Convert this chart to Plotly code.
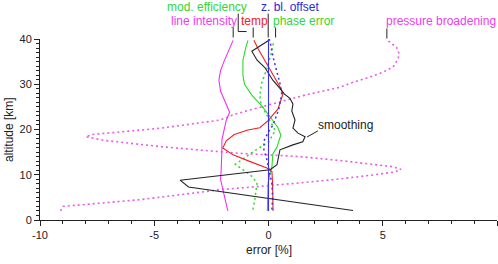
import plotly.graph_objects as go

# ---- data (error [%], altitude [km]) ----
li_x = [-1.78, -1.85, -1.95, -2.05, -2.1, -2.07, -2.04, -2.04, -2.04, -1.95, -1.85, -1.7, -1.8, -1.95, -2.1, -2.17, -2.1, -1.95, -1.75, -1.55]
li_y = [2.0, 3.5, 5.5, 7.5, 9.0, 11.0, 13.3, 15.5, 17.7, 20.0, 22.0, 23.8, 25.0, 26.8, 28.5, 30.9, 33.0, 35.0, 37.5, 39.7]

me_x = [-0.05, -0.05, -0.02, 0.05, 0.15, 0.19, 0.37, 0.54, 0.4, 0.19, -0.24, -0.73, -1.05, -1.12, -1.12, -1.0, -0.9]
me_y = [2.0, 5.0, 8.0, 10.0, 11.8, 14.6, 16.1, 18.8, 20.5, 22.0, 24.9, 27.6, 30.0, 32.0, 35.3, 38.0, 39.7]

pe_x = [-0.68, -0.6, -0.5, -0.8, -1.45, -0.7, 0.0, 0.3, 0.0, -0.33, -0.38, -0.3, -0.07, 0.1, 0.24]
pe_y = [2.3, 4.5, 8.2, 10.0, 12.3, 15.0, 17.2, 19.8, 22.5, 25.6, 27.6, 30.2, 33.5, 36.4, 39.7]

temp_x = [0.2, 0.2, 0.18, 0.15, -0.07, -0.8, -1.55, -2.0, -1.85, -1.5, -0.9, -0.38, -0.03, 0.41, 0.63, 0.55, 0.41, 0.1, -0.2, -0.45, -0.64]
temp_y = [2.0, 5.0, 8.0, 10.7, 11.5, 12.9, 14.4, 15.9, 17.5, 18.9, 19.9, 20.4, 21.9, 24.5, 27.8, 29.0, 30.2, 33.0, 35.5, 37.8, 39.7]

zbl_x = [0.0, 0.0, 0.0, 0.0, 0.0]
zbl_y = [2.0, 10.0, 20.0, 30.0, 40.0]

bd_x = [0.15, 0.18, 0.15, 0.07, -0.07, -0.2, -0.2, 0.0, 0.2, 0.45, 0.58, 0.5, 0.35, 0.2, 0.06]
bd_y = [2.3, 5.0, 8.0, 10.0, 13.3, 15.5, 17.5, 19.5, 21.0, 24.5, 27.8, 30.2, 33.0, 36.0, 39.7]

sm_x = [3.7, -3.5, -3.87, 0.07, 0.37, 0.42, 0.5, 1.07, 1.5, 1.6, 1.29, 1.07, 1.16, 1.02, 1.07, 0.94, 0.7, 0.5, 0.19, -0.16, -0.5, -0.73, 0.07]
sm_y = [2.1, 7.3, 8.8, 11.1, 12.2, 13.3, 15.5, 16.6, 17.3, 18.4, 19.2, 20.3, 22.1, 24.1, 25.6, 26.9, 27.8, 29.1, 30.9, 33.7, 35.3, 37.3, 39.9]

pb_x = [-9.1, -9.0, -5.6, -2.1, 1.37, 2.8, 4.5, 5.5, 5.8, 5.4, 3.4, 1.4, -1.47, -2.1, -4.7, -7.2, -8.0, -7.7, -4.7, -2.1, -1.47, 1.59, 3.1, 3.56, 4.44, 5.02, 5.45, 5.67, 5.72, 5.6, 5.13]
pb_y = [2.0, 3.0, 4.5, 6.7, 8.2, 8.9, 9.9, 10.6, 11.2, 11.8, 13.0, 14.0, 14.8, 15.1, 16.2, 17.6, 18.4, 18.9, 20.3, 22.1, 23.4, 27.6, 29.3, 30.2, 31.6, 32.7, 33.8, 35.6, 36.7, 38.2, 40.0]

x_ticks = [-10, -5, 0, 5, 10]
y_ticks = [0, 10, 20, 30, 40]

MAG = "#f032f0"
RED = "#f02020"
GRN = "#2ada2a"
BLU = "#3a30f0"
FONT = "Liberation Sans, Arial, sans-serif"

fig = go.Figure()

def add(x, y, color, dash="solid", width=1.1):
    fig.add_trace(go.Scatter(x=x, y=y, mode="lines",
                             line=dict(color=color, width=width, dash=dash),
                             showlegend=False, hoverinfo="skip"))

add(pb_x, pb_y, "#e85ae8", dash="2px,3px", width=1.6)
add(li_x, li_y, MAG)
add(pe_x, pe_y, GRN, dash="2px,3px", width=1.5)
add(me_x, me_y, GRN)
add(temp_x, temp_y, RED)
add(bd_x, bd_y, BLU, dash="2px,3px", width=1.5)
add(sm_x, sm_y, "#222222")
add(zbl_x, zbl_y, BLU)

# ---- layout geometry ----
T, B = 38.5, 43.5
H = 264 - T - B

def py2paper(py):
    return (264 - B - py) / H

shapes = []
def leader(x, py0, py1):
    shapes.append(dict(type="line", xref="x", yref="paper", x0=x, x1=x,
                       y0=py2paper(py0), y1=py2paper(py1),
                       line=dict(color="#222222", width=1)))

leader(-1.545, 27, 37)           # line intensity
leader(-1.325, 13, 31)           # mod. efficiency (vertical part)
shapes.append(dict(type="line", xref="x", yref="paper", x0=-1.325, x1=-0.958,
                   y0=py2paper(31), y1=py2paper(31), line=dict(color="#222222", width=1)))
leader(-0.67, 27, 37)            # temp
leader(-0.013, 13, 37)           # z. bl. offset
leader(0.31, 27, 37)             # phase error
leader(5.18, 28, 38)             # pressure broadening
shapes.append(dict(type="line", xref="x", yref="y", x0=1.69, y0=18.35, x1=2.16, y1=19.7,
                   line=dict(color="#222222", width=1)))

annotations = []
def label(text, x, py, color):
    annotations.append(dict(text=text, x=x, y=py2paper(py), xref="x", yref="paper",
                            xanchor="center", yanchor="middle", showarrow=False,
                            font=dict(family=FONT, size=12, color=color)))

R1, R2 = 6, 20.5
label("mod. efficiency", -2.67, R1, "#33d633")
label("z. bl. offset", 0.94, R1, "#2a2ad0")
label("line intensity", -2.83, R2, "#ee3cee")
label("temp", -0.62, R2, "#ee2222")
label("phase error", 1.53, R2, "#33d633")
label("pressure broadening", 7.55, R2, "#ee3cee")
annotations.append(dict(text="smoothing", x=3.39, y=21.0, xref="x", yref="y",
                        xanchor="center", yanchor="middle", showarrow=False,
                        font=dict(family=FONT, size=12, color="#222222")))
annotations.append(dict(text="error [%]", x=0.5, y=py2paper(251), xref="paper", yref="paper",
                        xanchor="center", yanchor="middle", showarrow=False,
                        font=dict(family=FONT, size=12, color="#222222")))
annotations.append(dict(text="altitude [km]", x=(9 - 40) / 457, y=py2paper(130),
                        xref="paper", yref="paper", textangle=-90,
                        xanchor="center", yanchor="middle", showarrow=False,
                        font=dict(family=FONT, size=12, color="#222222")))

axis_common = dict(showgrid=False, zeroline=False, showline=True, linecolor="#222222",
                   linewidth=1, ticks="outside", tickcolor="#222222", ticklen=5,
                   tickwidth=1, tickfont=dict(family=FONT, size=11, color="#222222"))

fig.update_layout(
    width=498, height=264,
    margin=dict(l=40, r=1, t=T, b=B, pad=0),
    paper_bgcolor="white", plot_bgcolor="white",
    xaxis=dict(range=[-10, 10], tickvals=x_ticks, ticktext=[str(v) for v in x_ticks],
               minor=dict(dtick=1, ticklen=3, tickcolor="#222222", ticks="outside", showgrid=False),
               **axis_common),
    yaxis=dict(range=[0, 40], tickvals=y_ticks, ticktext=[str(v) for v in y_ticks],
               minor=dict(dtick=1, ticklen=3, tickcolor="#222222", ticks="outside", showgrid=False),
               **axis_common),
    shapes=shapes, annotations=annotations,
    font=dict(family=FONT, size=12, color="#222222"),
)

fig.write_html("out.html", config=dict(displayModeBar=False))
